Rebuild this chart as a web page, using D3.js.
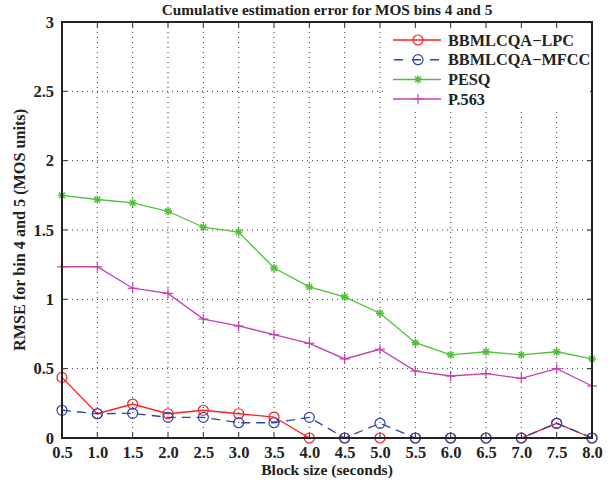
<!DOCTYPE html>
<html><head><meta charset="utf-8">
<script src="https://cdn.jsdelivr.net/npm/d3@7"></script>
<style>body{margin:0;background:#fff}svg text{font-family:"Liberation Serif","Times New Roman",serif;font-weight:bold;fill:#222}</style>
</head><body><svg id="c" width="616" height="486"></svg>
<script>
const blockSizes = [0.5,1.0,1.5,2.0,2.5,3.0,3.5,4.0,4.5,5.0,5.5,6.0,6.5,7.0,7.5,8.0];
const lpc  = [0.437,0.175,0.245,0.175,0.20,0.175,0.151,0,0,0,0,0,0,0,0.106,0];
const mfcc = [0.20,0.175,0.178,0.149,0.149,0.11,0.11,0.149,0,0.106,0,0,0,0,0.106,0];
const pesq = [1.75,1.72,1.695,1.635,1.52,1.485,1.226,1.09,1.017,0.90,0.687,0.60,0.622,0.60,0.622,0.57];
const p563 = [1.235,1.235,1.08,1.043,0.858,0.808,0.745,0.683,0.57,0.64,0.483,0.447,0.464,0.43,0.50,0.375];
const xTicks = [0.5,1.0,1.5,2.0,2.5,3.0,3.5,4.0,4.5,5.0,5.5,6.0,6.5,7.0,7.5,8.0];
const yTicks = [0,0.5,1,1.5,2,2.5,3];
const seriesNames = ["BBMLCQA\u2212LPC","BBMLCQA\u2212MFCC","PESQ","P.563"];

const svg = d3.select("#c");
const L=62,R=592,T=22,B=438;
const x = d3.scaleLinear().domain([0.5,8]).range([L,R]);
const y = d3.scaleLinear().domain([0,3]).range([B,T]);

// grid
const g = svg.append("g");
xTicks.slice(1,-1).forEach(v=>g.append("line").attr("x1",x(v)).attr("x2",x(v)).attr("y1",T).attr("y2",B)
  .attr("stroke","#333").attr("stroke-width",1).attr("stroke-dasharray","1,4"));
yTicks.slice(1,-1).forEach(v=>g.append("line").attr("y1",y(v)).attr("y2",y(v)).attr("x1",L).attr("x2",R)
  .attr("stroke","#333").attr("stroke-width",1).attr("stroke-dasharray","1,4"));

// inner ticks on all four sides
const tk=5;
xTicks.forEach(v=>{
  g.append("line").attr("x1",x(v)).attr("x2",x(v)).attr("y1",B).attr("y2",B-tk).attr("stroke","#222");
  g.append("line").attr("x1",x(v)).attr("x2",x(v)).attr("y1",T).attr("y2",T+tk).attr("stroke","#222");
});
yTicks.forEach(v=>{
  g.append("line").attr("y1",y(v)).attr("y2",y(v)).attr("x1",L).attr("x2",L+tk).attr("stroke","#222");
  g.append("line").attr("y1",y(v)).attr("y2",y(v)).attr("x1",R).attr("x2",R-tk).attr("stroke","#222");
});

// axes labels via d3 axes
const xAxis = svg.append("g").attr("transform",`translate(0,${B})`)
  .call(d3.axisBottom(x).tickValues(xTicks).tickFormat(d3.format(".1f")).tickSize(0).tickPadding(8));
const yAxis = svg.append("g").attr("transform",`translate(${L},0)`)
  .call(d3.axisLeft(y).tickValues(yTicks).tickFormat(d=>String(d)).tickSize(0).tickPadding(8));
[xAxis,yAxis].forEach(a=>{a.select(".domain").remove();a.selectAll("text").attr("font-size",16.5).attr("fill","#222")
  .style("font-family",'"Liberation Serif",serif').style("font-weight","bold");});

// series
const defs = [
  {vals:lpc,color:"#ff2020",dash:null,marker:"circle"},
  {vals:mfcc,color:"#2c44a8",dash:"9,6",marker:"circle"},
  {vals:pesq,color:"#52bf3a",dash:null,marker:"star"},
  {vals:p563,color:"#c43fb2",dash:null,marker:"plus"}
];
const line = d3.line().x((d,i)=>x(blockSizes[i])).y(d=>y(d));
function drawMarker(sel,type,color,cx,cy){
  if(type==="circle"){
    sel.append("circle").attr("cx",cx).attr("cy",cy).attr("r",5).attr("fill","none").attr("stroke",color).attr("stroke-width",1.2);
  } else if(type==="star"){
    const s=4;
    [[s,0],[0,s],[s*0.72,s*0.72],[s*0.72,-s*0.72]].forEach(([dx,dy])=>
      sel.append("line").attr("x1",cx-dx).attr("x2",cx+dx).attr("y1",cy-dy).attr("y2",cy+dy).attr("stroke",color).attr("stroke-width",1.5));
  } else {
    const s=5;
    sel.append("line").attr("x1",cx-s).attr("x2",cx+s).attr("y1",cy).attr("y2",cy).attr("stroke",color).attr("stroke-width",1.2);
    sel.append("line").attr("x1",cx).attr("x2",cx).attr("y1",cy-s).attr("y2",cy+s).attr("stroke",color).attr("stroke-width",1.2);
  }
}
const pg = svg.append("g");
defs.forEach(d=>{
  pg.append("path").datum(d.vals).attr("d",line).attr("fill","none").attr("stroke",d.color)
    .attr("stroke-width",1.3).attr("stroke-dasharray",d.dash);
  d.vals.forEach((v,i)=>drawMarker(pg,d.marker,d.color,x(blockSizes[i]),y(v)));
});

// frame
svg.append("rect").attr("x",L).attr("y",T).attr("width",R-L).attr("height",B-T)
  .attr("fill","none").attr("stroke","#222").attr("stroke-width",2);

// legend
const lg = svg.append("g");
lg.append("rect").attr("x",384).attr("y",29).attr("width",206).attr("height",82).attr("fill","#fff");
defs.forEach((d,i)=>{
  const yy = 40 + i*19.7;
  lg.append("line").attr("x1",393).attr("x2",441).attr("y1",yy).attr("y2",yy).attr("stroke",d.color)
    .attr("stroke-width",1.5).attr("stroke-dasharray",d.dash?"9,9":null).attr("stroke-dashoffset",d.dash?-1:null);
  drawMarker(lg,d.marker,d.color,418,yy);
  lg.append("text").attr("x",448).attr("y",yy+5.5).attr("font-size",16.3).text(seriesNames[i]);
});

// titles
svg.append("text").attr("x",327).attr("y",15).attr("text-anchor","middle").attr("font-size",15.3)
  .text("Cumulative estimation error for MOS bins 4 and 5");
svg.append("text").attr("x",327).attr("y",475).attr("text-anchor","middle").attr("font-size",15.6)
  .text("Block size (seconds)");
svg.append("text").attr("transform","translate(25,230) rotate(-90)").attr("text-anchor","middle").attr("font-size",16.2)
  .text("RMSE for bin 4 and 5 (MOS units)");
</script></body></html>
